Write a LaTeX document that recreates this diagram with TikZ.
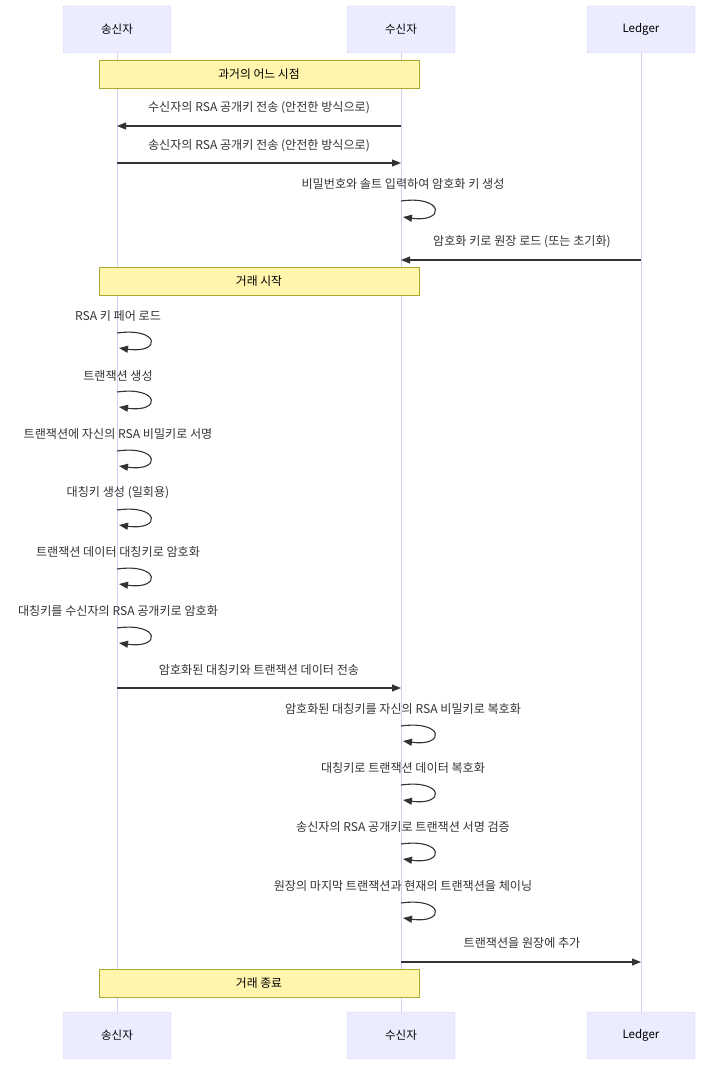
\documentclass[tikz,border=0pt]{standalone}
\usepackage{fontspec}
\setmainfont{Noto Sans CJK KR}
\usetikzlibrary{arrows.meta}
\definecolor{actfill}{HTML}{ECECFF}
\definecolor{actline}{RGB}{214,204,245}
\definecolor{notefill}{HTML}{FFF5AD}
\definecolor{noteline}{HTML}{AAAA33}
\definecolor{ink}{HTML}{333333}
\tikzset{
  actor/.style={draw=actline, fill=actfill, rounded corners=2pt, minimum width=108pt, minimum height=47pt, inner sep=0pt, font=\fontsize{11.5}{13}\selectfont, text=black},
  lifeline/.style={draw=actline, line width=1pt},
  notebox/.style={draw=noteline, fill=notefill, minimum width=320pt, minimum height=28pt, inner sep=0pt, font=\fontsize{11.8}{13}\selectfont, text=black},
  msg/.style={draw=ink, line width=1.1pt, -{Triangle[length=9pt,width=7pt]}},
  lbl/.style={font=\fontsize{12.1}{13}\selectfont, text=ink, inner sep=0pt}
}
\begin{document}
\begin{tikzpicture}[x=1pt,y=-1pt]
\useasboundingbox (0,0) rectangle (716,1065);
% lifelines
\coordinate (sT) at (117,53); \coordinate (sB) at (117,1012);
\coordinate (rT) at (401,53); \coordinate (rB) at (401,1012);
\coordinate (lT) at (641,53); \coordinate (lB) at (641,1012);
\draw[lifeline] (sT) -- (sB);
\draw[lifeline] (rT) -- (rB);
\draw[lifeline] (lT) -- (lB);
% actors
\node[actor] (s1) at (117,29.5) {송신자};
\node[actor] (r1) at (401,29.5) {수신자};
\node[actor] (l1) at (641,29.5) {Ledger};
\node[actor] (s2) at (117,1035.5) {송신자};
\node[actor] (r2) at (401,1035.5) {수신자};
\node[actor] (l2) at (641,1035.5) {Ledger};
% note 1
\node[notebox] (n1) at (259,74) {과거의 어느 시점};
% msg 1
\node[lbl] (t1) at (259,108) {수신자의 RSA 공개키 전송 (안전한 방식으로)};
\coordinate (m1a) at (401,126); \coordinate (m1b) at (117,126);
\draw[msg] (m1a) -- (m1b);
% msg 2
\node[lbl] (t2) at (259,146) {송신자의 RSA 공개키 전송 (안전한 방식으로)};
\coordinate (m2a) at (117,163); \coordinate (m2b) at (401,163);
\draw[msg] (m2a) -- (m2b);
% self 3
\node[lbl] (t3) at (403,184) {비밀번호와 솔트 입력하여 암호화 키 생성};
\coordinate (p3a) at (401,201); \coordinate (p3b) at (403,217);
\draw[msg] (p3a) .. controls +(43,-6) and +(43,6) .. (p3b);
% msg 4
\node[lbl] (t4) at (522,242) {암호화 키로 원장 로드 (또는 초기화)};
\coordinate (m4a) at (641,260); \coordinate (m4b) at (401,260);
\draw[msg] (m4a) -- (m4b);
% note 2
\node[notebox] (n2) at (259,281.5) {거래 시작};
% sender self messages
\node[lbl] (t5) at (118,316) {RSA 키 페어 로드};
\coordinate (p5a) at (117,333); \coordinate (p5b) at (119,348);
\draw[msg] (p5a) .. controls +(43,-6) and +(43,6) .. (p5b);
\node[lbl] (t6) at (118,376) {트랜잭션 생성};
\coordinate (p6a) at (117,392); \coordinate (p6b) at (119,407);
\draw[msg] (p6a) .. controls +(43,-6) and +(43,6) .. (p6b);
\node[lbl] (t7) at (118,434) {트랜잭션에 자신의 RSA 비밀키로 서명};
\coordinate (p7a) at (117,451); \coordinate (p7b) at (119,466);
\draw[msg] (p7a) .. controls +(43,-6) and +(43,6) .. (p7b);
\node[lbl] (t8) at (118,493) {대칭키 생성 (일회용)};
\coordinate (p8a) at (117,510); \coordinate (p8b) at (119,525);
\draw[msg] (p8a) .. controls +(43,-6) and +(43,6) .. (p8b);
\node[lbl] (t9) at (118,552) {트랜잭션 데이터 대칭키로 암호화};
\coordinate (p9a) at (117,569); \coordinate (p9b) at (119,584);
\draw[msg] (p9a) .. controls +(43,-6) and +(43,6) .. (p9b);
\node[lbl] (t10) at (118,611) {대칭키를 수신자의 RSA 공개키로 암호화};
\coordinate (p10a) at (117,628); \coordinate (p10b) at (119,643);
\draw[msg] (p10a) .. controls +(43,-6) and +(43,6) .. (p10b);
% msg 11
\node[lbl] (t11) at (259,670) {암호화된 대칭키와 트랜잭션 데이터 전송};
\coordinate (m11a) at (117,688); \coordinate (m11b) at (401,688);
\draw[msg] (m11a) -- (m11b);
% receiver self messages
\node[lbl] (t12) at (403,709) {암호화된 대칭키를 자신의 RSA 비밀키로 복호화};
\coordinate (p12a) at (401,726); \coordinate (p12b) at (403,741);
\draw[msg] (p12a) .. controls +(43,-6) and +(43,6) .. (p12b);
\node[lbl] (t13) at (403,768) {대칭키로 트랜잭션 데이터 복호화};
\coordinate (p13a) at (401,785); \coordinate (p13b) at (403,800);
\draw[msg] (p13a) .. controls +(43,-6) and +(43,6) .. (p13b);
\node[lbl] (t14) at (403,827) {송신자의 RSA 공개키로 트랜잭션 서명 검증};
\coordinate (p14a) at (401,844); \coordinate (p14b) at (403,859);
\draw[msg] (p14a) .. controls +(43,-6) and +(43,6) .. (p14b);
\node[lbl] (t15) at (403,886) {원장의 마지막 트랜잭션과 현재의 트랜잭션을 체이닝};
\coordinate (p15a) at (401,903); \coordinate (p15b) at (403,918);
\draw[msg] (p15a) .. controls +(43,-6) and +(43,6) .. (p15b);
% msg 16
\node[lbl] (t16) at (522,943) {트랜잭션을 원장에 추가};
\coordinate (m16a) at (401,962); \coordinate (m16b) at (641,962);
\draw[msg] (m16a) -- (m16b);
% note 3
\node[notebox] (n3) at (259,983.5) {거래 종료};
\end{tikzpicture}
\end{document}
